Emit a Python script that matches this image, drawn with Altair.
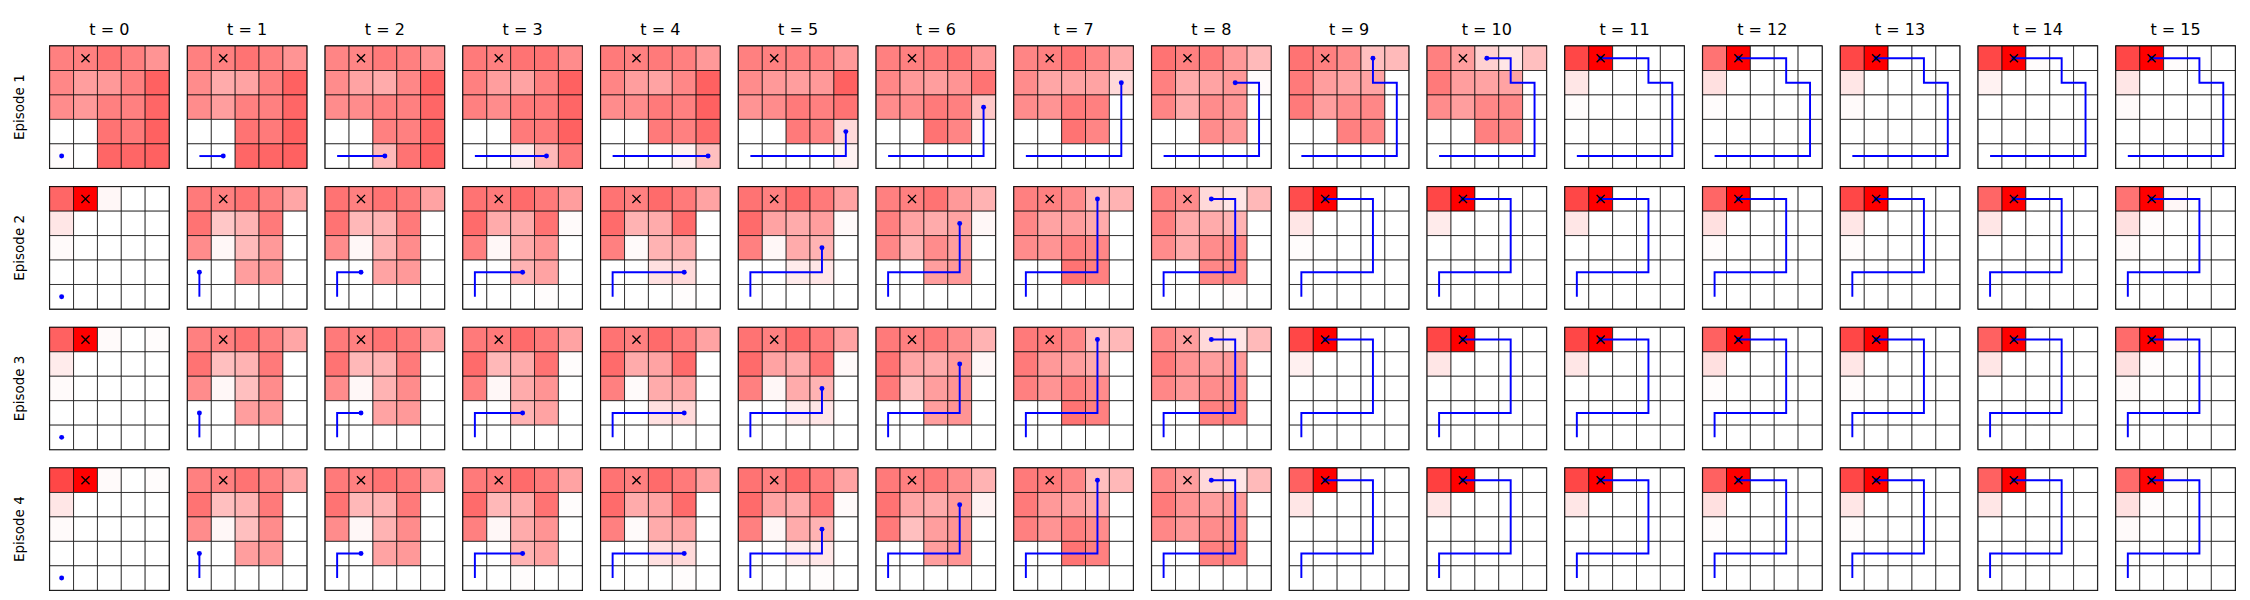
import altair as alt
import pandas as pd

# ---------------- data ----------------
EPISODES = [1, 2, 3, 4]
TIMESTEPS = list(range(16))
GOAL = (1, 0)  # (col, row from top)

EP1_PATH = [(0, 4), (1, 4), (2, 4), (3, 4), (4, 4), (4, 3), (4, 2), (4, 1),
            (3, 1), (3, 0), (2, 0), (1, 0)]
EP2_PATH = [(0, 4), (0, 3), (1, 3), (2, 3), (3, 3), (3, 2), (3, 1), (3, 0),
            (2, 0), (1, 0)]
EP3_PATH = [(0, 4), (0, 3), (1, 3), (2, 3), (3, 3), (3, 2), (3, 1), (3, 0),
            (2, 0), (1, 0)]
EP4_PATH = [(0, 4), (0, 3), (1, 3), (2, 3), (3, 3), (3, 2), (3, 1), (3, 0),
            (2, 0), (1, 0)]

Z = [0, 0, 0, 0, 0]

EP1_VALUES = [
    [[0.50, 0.50, 0.55, 0.50, 0.42], [0.47, 0.38, 0.40, 0.50, 0.62], [0.45, 0.40, 0.50, 0.50, 0.60], [0, 0, 0.55, 0.52, 0.62], [0.01, 0, 0.60, 0.60, 0.62]],
    [[0.50, 0.50, 0.55, 0.50, 0.42], [0.45, 0.33, 0.36, 0.50, 0.62], [0.45, 0.38, 0.50, 0.50, 0.60], [0, 0, 0.55, 0.52, 0.62], [0, 0, 0.60, 0.60, 0.62]],
    [[0.48, 0.48, 0.52, 0.50, 0.42], [0.45, 0.36, 0.33, 0.47, 0.62], [0.45, 0.45, 0.50, 0.50, 0.60], [0, 0, 0.50, 0.50, 0.60], [0, 0, 0.28, 0.55, 0.62]],
    [[0.52, 0.50, 0.55, 0.55, 0.45], [0.50, 0.38, 0.36, 0.50, 0.62], [0.50, 0.45, 0.52, 0.52, 0.60], [0, 0, 0.52, 0.52, 0.62], [0, 0, 0.08, 0.28, 0.52]],
    [[0.52, 0.50, 0.52, 0.50, 0.40], [0.48, 0.38, 0.36, 0.47, 0.62], [0.45, 0.45, 0.52, 0.50, 0.62], [0, 0, 0.52, 0.50, 0.58], [0, 0, 0, 0.05, 0.25]],
    [[0.50, 0.50, 0.50, 0.50, 0.40], [0.45, 0.40, 0.38, 0.40, 0.62], [0.42, 0.45, 0.52, 0.50, 0.55], [0, 0, 0.52, 0.48, 0.15], [0, 0, 0, 0, 0.05]],
    [[0.50, 0.50, 0.52, 0.55, 0.40], [0.47, 0.40, 0.38, 0.42, 0.55], [0.45, 0.45, 0.52, 0.50, 0.22], [0, 0, 0.55, 0.48, 0.02], Z],
    [[0.48, 0.50, 0.55, 0.48, 0.33], [0.45, 0.35, 0.36, 0.36, 0.15], [0.45, 0.42, 0.52, 0.50, 0], [0, 0, 0.55, 0.48, 0], Z],
    [[0.55, 0.50, 0.52, 0.40, 0.27], [0.50, 0.33, 0.36, 0.40, 0.02], [0.48, 0.33, 0.45, 0.42, 0], [0, 0, 0.45, 0.40, 0], Z],
    [[0.55, 0.50, 0.45, 0.25, 0.27], [0.52, 0.38, 0.36, 0.36, 0], [0.52, 0.38, 0.45, 0.47, 0], [0, 0, 0.50, 0.47, 0], Z],
    [[0.50, 0.38, 0.18, 0.10, 0.25], [0.52, 0.38, 0.36, 0.36, 0], [0.45, 0.38, 0.47, 0.47, 0], [0, 0, 0.50, 0.47, 0], Z],
    [[0.72, 1.00, 0, 0, 0], [0.10, 0, 0, 0, 0], [0.01, 0, 0, 0, 0], Z, Z],
    [[0.55, 1.00, 0, 0, 0], [0.12, 0, 0, 0, 0], [0.01, 0, 0, 0, 0], Z, Z],
    [[0.72, 1.00, 0, 0, 0], [0.10, 0, 0, 0, 0], [0.02, 0, 0, 0, 0], Z, Z],
    [[0.72, 1.00, 0.01, 0, 0], [0.05, 0, 0, 0, 0], Z, Z, Z],
    [[0.72, 1.00, 0.01, 0, 0], [0.10, 0, 0, 0, 0], [0.02, 0, 0, 0, 0], Z, Z],
]

EP2_VALUES = [
    [[0.60, 1.00, 0.03, 0, 0], [0.10, 0, 0, 0, 0], [0.02, 0, 0, 0, 0], Z, Z],
    [[0.52, 0.50, 0.55, 0.50, 0.35], [0.55, 0.22, 0.30, 0.52, 0], [0.45, 0.03, 0.27, 0.40, 0], [0, 0, 0.38, 0.40, 0], Z],
    [[0.55, 0.50, 0.55, 0.52, 0.36], [0.55, 0.28, 0.30, 0.52, 0], [0.45, 0.03, 0.30, 0.45, 0], [0, 0, 0.36, 0.40, 0], Z],
    [[0.55, 0.52, 0.58, 0.52, 0.38], [0.58, 0.33, 0.33, 0.55, 0.02], [0.50, 0.03, 0.33, 0.42, 0], [0, 0, 0.30, 0.36, 0], [0, 0, 0, 0.01, 0]],
    [[0.55, 0.50, 0.58, 0.52, 0.36], [0.58, 0.30, 0.33, 0.58, 0], [0.50, 0.02, 0.30, 0.33, 0], [0, 0, 0.12, 0.15, 0], [0, 0, 0, 0.01, 0]],
    [[0.55, 0.50, 0.58, 0.52, 0.36], [0.58, 0.36, 0.33, 0.38, 0.02], [0.50, 0.03, 0.33, 0.30, 0], [0, 0, 0.08, 0.10, 0], Z],
    [[0.50, 0.50, 0.55, 0.40, 0.30], [0.50, 0.36, 0.33, 0.36, 0.03], [0.47, 0.30, 0.45, 0.38, 0], [0, 0, 0.38, 0.40, 0], Z],
    [[0.50, 0.50, 0.45, 0.28, 0.30], [0.47, 0.36, 0.38, 0.33, 0], [0.45, 0.42, 0.50, 0.47, 0], [0, 0, 0.55, 0.50, 0], Z],
    [[0.50, 0.45, 0.15, 0.10, 0.28], [0.50, 0.33, 0.33, 0.30, 0], [0.45, 0.33, 0.45, 0.47, 0], [0, 0, 0.47, 0.47, 0], [0, 0, 0, 0.01, 0]],
    [[0.70, 1.00, 0, 0, 0], [0.10, 0, 0, 0, 0], [0.01, 0, 0, 0, 0], Z, Z],
    [[0.72, 1.00, 0, 0, 0], [0.08, 0, 0, 0, 0], Z, Z, Z],
    [[0.72, 1.00, 0, 0, 0], [0.10, 0, 0, 0, 0], Z, Z, Z],
    [[0.60, 1.00, 0, 0, 0], [0.12, 0, 0, 0, 0], [0.01, 0, 0, 0, 0], Z, Z],
    [[0.72, 1.00, 0, 0, 0], [0.10, 0, 0, 0, 0], [0.01, 0, 0, 0, 0], Z, Z],
    [[0.60, 1.00, 0, 0, 0], [0.10, 0, 0, 0, 0], Z, Z, Z],
    [[0.55, 1.00, 0.03, 0, 0], [0.12, 0.01, 0, 0, 0], [0.02, 0, 0, 0, 0], Z, Z],
]

EP3_VALUES = [
    [[0.62, 1.00, 0.02, 0, 0.01], [0.08, 0, 0, 0, 0], [0.02, 0, 0, 0, 0], Z, Z],
    [[0.50, 0.50, 0.55, 0.50, 0.35], [0.55, 0.25, 0.30, 0.52, 0], [0.45, 0.03, 0.25, 0.45, 0], [0, 0, 0.38, 0.40, 0], Z],
    [[0.52, 0.50, 0.55, 0.52, 0.36], [0.55, 0.28, 0.30, 0.52, 0], [0.45, 0.03, 0.30, 0.45, 0], [0, 0, 0.36, 0.40, 0], Z],
    [[0.52, 0.52, 0.58, 0.52, 0.36], [0.58, 0.28, 0.33, 0.55, 0.01], [0.50, 0.03, 0.33, 0.42, 0], [0, 0, 0.30, 0.36, 0], Z],
    [[0.55, 0.50, 0.58, 0.52, 0.36], [0.58, 0.33, 0.36, 0.58, 0], [0.50, 0.02, 0.33, 0.36, 0], [0, 0, 0.12, 0.15, 0], Z],
    [[0.55, 0.50, 0.58, 0.52, 0.36], [0.58, 0.36, 0.33, 0.55, 0.02], [0.50, 0.03, 0.33, 0.30, 0], [0, 0, 0.08, 0.10, 0], Z],
    [[0.52, 0.50, 0.52, 0.45, 0.30], [0.55, 0.35, 0.33, 0.40, 0.03], [0.52, 0.25, 0.38, 0.42, 0], [0, 0, 0.38, 0.42, 0], Z],
    [[0.52, 0.52, 0.47, 0.25, 0.28], [0.52, 0.40, 0.38, 0.33, 0], [0.50, 0.42, 0.50, 0.45, 0], [0, 0, 0.55, 0.50, 0], Z],
    [[0.47, 0.38, 0.15, 0.10, 0.27], [0.52, 0.42, 0.38, 0.40, 0], [0.47, 0.40, 0.45, 0.45, 0], [0, 0, 0.50, 0.50, 0], Z],
    [[0.72, 1.00, 0, 0, 0], [0.06, 0, 0, 0, 0], Z, Z, Z],
    [[0.72, 1.00, 0, 0, 0], [0.10, 0, 0, 0, 0], Z, Z, Z],
    [[0.72, 1.00, 0, 0, 0], [0.10, 0, 0, 0, 0], Z, Z, Z],
    [[0.62, 1.00, 0, 0, 0], [0.12, 0, 0, 0, 0], [0.01, 0, 0, 0, 0], Z, Z],
    [[0.72, 1.00, 0, 0, 0], [0.10, 0, 0, 0, 0], [0.01, 0, 0, 0, 0], Z, Z],
    [[0.62, 1.00, 0, 0, 0], [0.10, 0, 0, 0, 0], Z, Z, Z],
    [[0.58, 1.00, 0.02, 0, 0], [0.12, 0.01, 0, 0, 0], [0.02, 0, 0, 0, 0], Z, Z],
]

EP4_VALUES = [
    [[0.72, 1.00, 0.02, 0, 0.01], [0.10, 0, 0, 0, 0], [0.02, 0, 0, 0, 0], Z, Z],
    [[0.50, 0.50, 0.55, 0.50, 0.35], [0.55, 0.25, 0.30, 0.52, 0], [0.45, 0.03, 0.25, 0.45, 0], [0, 0, 0.38, 0.40, 0], Z],
    [[0.52, 0.50, 0.55, 0.52, 0.36], [0.55, 0.28, 0.30, 0.52, 0], [0.45, 0.03, 0.30, 0.45, 0], [0, 0, 0.36, 0.40, 0], Z],
    [[0.52, 0.52, 0.58, 0.52, 0.36], [0.58, 0.28, 0.33, 0.55, 0.01], [0.50, 0.03, 0.33, 0.42, 0], [0, 0, 0.30, 0.36, 0], [0, 0, 0.01, 0, 0]],
    [[0.55, 0.50, 0.58, 0.52, 0.36], [0.58, 0.33, 0.36, 0.58, 0], [0.50, 0.02, 0.33, 0.36, 0], [0, 0, 0.12, 0.15, 0], [0, 0, 0, 0.01, 0]],
    [[0.55, 0.50, 0.58, 0.52, 0.36], [0.58, 0.36, 0.33, 0.55, 0.02], [0.50, 0.03, 0.33, 0.30, 0], [0, 0, 0.08, 0.10, 0], [0, 0, 0, 0.01, 0]],
    [[0.52, 0.50, 0.52, 0.45, 0.30], [0.55, 0.35, 0.33, 0.40, 0.05], [0.52, 0.25, 0.38, 0.42, 0], [0, 0, 0.38, 0.42, 0], Z],
    [[0.52, 0.52, 0.47, 0.25, 0.28], [0.52, 0.40, 0.38, 0.33, 0], [0.50, 0.42, 0.50, 0.45, 0], [0, 0, 0.55, 0.50, 0], Z],
    [[0.47, 0.38, 0.15, 0.10, 0.27], [0.52, 0.42, 0.38, 0.40, 0], [0.47, 0.40, 0.45, 0.45, 0], [0, 0, 0.50, 0.50, 0], Z],
    [[0.62, 1.00, 0.02, 0, 0], [0.10, 0, 0, 0, 0], Z, Z, Z],
    [[0.75, 1.00, 0, 0, 0], [0.10, 0, 0, 0, 0], Z, Z, Z],
    [[0.72, 1.00, 0, 0, 0], [0.10, 0, 0, 0, 0], Z, Z, Z],
    [[0.62, 1.00, 0, 0, 0], [0.12, 0, 0, 0, 0], [0.01, 0, 0, 0, 0], Z, Z],
    [[0.72, 1.00, 0, 0, 0], [0.10, 0, 0, 0, 0], [0.01, 0, 0, 0, 0], Z, Z],
    [[0.62, 1.00, 0, 0, 0], [0.10, 0, 0, 0, 0], Z, Z, Z],
    [[0.58, 1.00, 0.02, 0, 0], [0.12, 0.01, 0, 0, 0], [0.02, 0, 0, 0, 0], Z, Z],
]

VALUES = {1: EP1_VALUES, 2: EP2_VALUES, 3: EP3_VALUES, 4: EP4_VALUES}
PATHS = {1: EP1_PATH, 2: EP2_PATH, 3: EP3_PATH, 4: EP4_PATH}

# ---------------- build one long table ----------------
records = []
for ep in EPISODES:
    for t in TIMESTEPS:
        grid = VALUES[ep][t]
        for r in range(5):
            for c in range(5):
                records.append(dict(kind="cell", episode=ep, t=t, x0=c, x1=c + 1,
                                    y0=r, y1=r + 1, value=grid[r][c]))
        path = PATHS[ep]
        upto = min(t, len(path) - 1)
        for step in range(upto + 1):
            c, r = path[step]
            records.append(dict(kind="path", episode=ep, t=t, cx=c + 0.5,
                                cy=r + 0.5, step=step))
        c, r = path[upto]
        records.append(dict(kind="dot", episode=ep, t=t, cx=c + 0.5, cy=r + 0.5))
        records.append(dict(kind="goal", episode=ep, t=t, cx=GOAL[0] + 0.5,
                            cy=GOAL[1] + 0.5))

df = pd.DataFrame(records)

xs = alt.Scale(domain=[0, 5], nice=False, zero=False)
ys = alt.Scale(domain=[0, 5], nice=False, zero=False, reverse=True)

cells = alt.Chart().mark_rect(stroke="#000000", strokeOpacity=0.7, strokeWidth=1).encode(
    x=alt.X("x0:Q", scale=xs, axis=None),
    x2="x1:Q",
    y=alt.Y("y0:Q", scale=ys, axis=None),
    y2="y1:Q",
    color=alt.Color("value:Q", scale=alt.Scale(domain=[0, 1], range=["#ffffff", "#ff0000"],
                                                interpolate="rgb"), legend=None),
).transform_filter(alt.datum.kind == "cell")

line = alt.Chart().mark_line(color="#0000ff", strokeWidth=2).encode(
    x=alt.X("cx:Q", scale=xs, axis=None),
    y=alt.Y("cy:Q", scale=ys, axis=None),
    order="step:Q",
).transform_filter(alt.datum.kind == "path")

dot = alt.Chart().mark_point(shape="circle", filled=True, color="#0000ff", size=26,
                             opacity=1).encode(
    x=alt.X("cx:Q", scale=xs, axis=None),
    y=alt.Y("cy:Q", scale=ys, axis=None),
).transform_filter(alt.datum.kind == "dot")

goal = alt.Chart().mark_point(shape="M -1 -1 L 1 1 M -1 1 L 1 -1", filled=False,
                              color="#000000", strokeWidth=1.4, size=70,
                              opacity=1).encode(
    x=alt.X("cx:Q", scale=xs, axis=None),
    y=alt.Y("cy:Q", scale=ys, axis=None),
).transform_filter(alt.datum.kind == "goal")

panel = alt.layer(cells, line, dot, goal).properties(width=123, height=126)

chart = panel.facet(
    data=df,
    column=alt.Column("t:O", header=alt.Header(
        labelExpr="'t = ' + datum.value", title=None, labelFontSize=16.5,
        labelFont="DejaVu Sans", labelColor="#000000", labelPadding=6)),
    row=alt.Row("episode:O", header=alt.Header(
        labelExpr="'Episode ' + datum.value", title=None, labelFontSize=13.9,
        labelFont="DejaVu Sans", labelColor="#000000", labelAngle=270,
        labelPadding=8)),
    spacing={"row": 15, "column": 15},
).configure_view(stroke="#000000", strokeWidth=1.5).properties(
    padding={"left": 5, "top": 5, "right": 5, "bottom": 5}
)

chart.save("out.html", embed_options={"renderer": "svg", "actions": False})
